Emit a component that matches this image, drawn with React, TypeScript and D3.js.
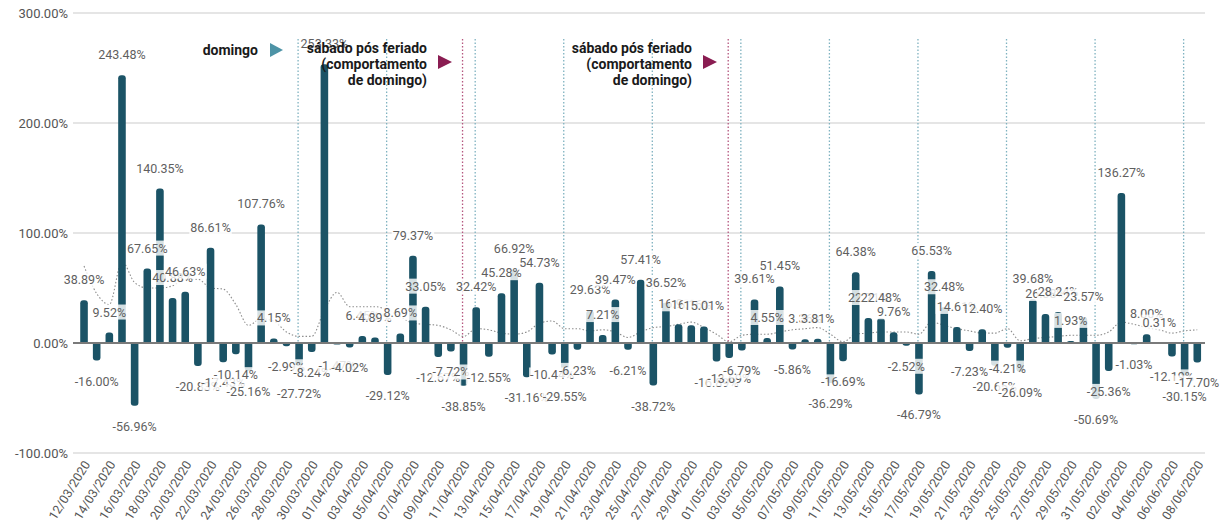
import React, { useEffect, useRef } from 'react';
import * as d3 from 'd3';

// daily % change vs previous day
const dates = [
  '12/03/2020', '13/03/2020', '14/03/2020', '15/03/2020', '16/03/2020', '17/03/2020', '18/03/2020', '19/03/2020',
  '20/03/2020', '21/03/2020', '22/03/2020', '23/03/2020', '24/03/2020', '25/03/2020', '26/03/2020', '27/03/2020',
  '28/03/2020', '29/03/2020', '30/03/2020', '31/03/2020', '01/04/2020', '02/04/2020', '03/04/2020', '04/04/2020',
  '05/04/2020', '06/04/2020', '07/04/2020', '08/04/2020', '09/04/2020', '10/04/2020', '11/04/2020', '12/04/2020',
  '13/04/2020', '14/04/2020', '15/04/2020', '16/04/2020', '17/04/2020', '18/04/2020', '19/04/2020', '20/04/2020',
  '21/04/2020', '22/04/2020', '23/04/2020', '24/04/2020', '25/04/2020', '26/04/2020', '27/04/2020', '28/04/2020',
  '29/04/2020', '30/04/2020', '01/05/2020', '02/05/2020', '03/05/2020', '04/05/2020', '05/05/2020', '06/05/2020',
  '07/05/2020', '08/05/2020', '09/05/2020', '10/05/2020', '11/05/2020', '12/05/2020', '13/05/2020', '14/05/2020',
  '15/05/2020', '16/05/2020', '17/05/2020', '18/05/2020', '19/05/2020', '20/05/2020', '21/05/2020', '22/05/2020',
  '23/05/2020', '24/05/2020', '25/05/2020', '26/05/2020', '27/05/2020', '28/05/2020', '29/05/2020', '30/05/2020',
  '31/05/2020', '01/06/2020', '02/06/2020', '03/06/2020', '04/06/2020', '05/06/2020', '06/06/2020', '07/06/2020',
  '08/06/2020'
];

const changePct = [
  38.89, -16.0, 9.52, 243.48, -56.96, 67.65, 140.35, 40.88,
  46.63, -20.83, 86.61, -17.43, -10.14, -25.16, 107.76, 4.15,
  -2.99, -27.72, -8.24, 253.33, -1.47, -4.02, 6.45, 4.89,
  -29.12, 8.69, 79.37, 33.05, -12.67, -7.72, -38.85, 32.42,
  -12.55, 45.28, 66.92, -31.16, 54.73, -10.44, -29.55, -6.23,
  29.63, 7.21, 39.47, -6.21, 57.41, -38.72, 36.52, 16.98,
  16.16, 15.01, -16.89, -13.69, -6.79, 39.61, 4.55, 51.45,
  -5.86, 3.36, 3.81, -36.29, -16.69, 64.38, 22.71, 22.48,
  9.76, -2.52, -46.79, 65.53, 32.48, 14.61, -7.23, 12.4,
  -20.65, -4.21, -26.09, 39.68, 26.38, 28.24, 1.93, 23.57,
  -50.69, -25.36, 136.27, -1.03, 8.0, 0.31, -12.19, -30.15,
  -17.7
];

// dotted trend line
const trendPct = [
  70, 45, 35, 74, 55, 50, 50, 52,
  58, 58, 50, 49, 35, 16, 22, 20,
  10, 6, 6, 30, 46, 33, 33, 33,
  30, 24, 18, 17, 16, 12, 6, 13,
  12, 9, 8, 10, 18, 20, 13, 13,
  11, 12, 10, 5, 10, 14, 15, 17,
  19, 14, 8, 1, 7, 8, 8, 10,
  12, 13, 14, 8, 1, 8, 9, 10,
  10, 10, 8, 19, 16, 13, 11, 9,
  9, 13, 2, 4, 5, 6, 7, 7,
  7, 10, 19, 17, 14, 12, 9, 11,
  12
];

const sundayDates = [
  '29/03/2020', '05/04/2020', '12/04/2020', '19/04/2020', '26/04/2020', '03/05/2020',
  '10/05/2020', '17/05/2020', '24/05/2020', '31/05/2020', '07/06/2020'
];
const holidaySaturdayDates = ['11/04/2020', '02/05/2020'];

const yTicks = [-100, 0, 100, 200, 300];
const xTickLabels = dates.filter((_, i) => i % 2 === 0);

const W = 1228;
const H = 525;
const BAR_COLOR = '#1b5366';
const TEAL = '#4d93a6';
const MAROON = '#8a1d52';
const FONT = 'Roboto, sans-serif';

function barPath(x0: number, w: number, base: number, end: number, r: number) {
  const h = Math.abs(end - base);
  const rr = Math.min(r, h, w / 2);
  if (end <= base) {
    return `M${x0},${base}L${x0},${end + rr}Q${x0},${end} ${x0 + rr},${end}L${x0 + w - rr},${end}Q${x0 + w},${end} ${x0 + w},${end + rr}L${x0 + w},${base}Z`;
  }
  return `M${x0},${base}L${x0},${end - rr}Q${x0},${end} ${x0 + rr},${end}L${x0 + w - rr},${end}Q${x0 + w},${end} ${x0 + w},${end - rr}L${x0 + w},${base}Z`;
}

export default function App() {
  const svgRef = useRef<SVGSVGElement>(null);

  useEffect(() => {
    if (!svgRef.current) return;
    const svg = d3.select(svgRef.current);
    svg.selectAll('*').remove();

    const x = d3.scaleBand<string>()
      .domain(dates)
      .range([77.7, 1203.6])
      .paddingInner(0.4)
      .paddingOuter(0.2);
    const y = d3.scaleLinear().domain([-100, 300]).range([453, 13]);
    const cx = (d: string) => (x(d) as number) + x.bandwidth() / 2;

    // grid + y labels
    const grid = svg.append('g');
    grid.selectAll('line')
      .data(yTicks)
      .enter()
      .append('line')
      .attr('x1', 73)
      .attr('x2', 1205)
      .attr('y1', d => y(d))
      .attr('y2', d => y(d))
      .attr('stroke', d => (d === 0 ? '#7a7a7a' : '#dcdcdc'))
      .attr('stroke-width', d => (d === 0 ? 2 : 1.5));

    grid.selectAll('text')
      .data(yTicks)
      .enter()
      .append('text')
      .attr('x', 68)
      .attr('y', d => y(d))
      .attr('dy', '0.35em')
      .attr('text-anchor', 'end')
      .style('font-family', FONT)
      .style('font-size', '13px')
      .style('fill', '#555')
      .text(d => `${d.toFixed(2)}%`);

    // weekday reference lines
    const refLines = svg.append('g');
    const addRefLines = (list: string[], color: string) => {
      refLines.selectAll(null)
        .data(list)
        .enter()
        .append('line')
        .attr('x1', d => cx(d) - 1)
        .attr('x2', d => cx(d) - 1)
        .attr('y1', 39)
        .attr('y2', y(0))
        .attr('stroke', color)
        .attr('stroke-width', 1.3)
        .attr('stroke-dasharray', '1.5,2');
    };
    addRefLines(sundayDates, '#7fb2c0');
    addRefLines(holidaySaturdayDates, '#b5577f');

    // trend line
    const line = d3.line<number>()
      .x((_, i) => cx(dates[i]))
      .y(d => y(d))
      .curve(d3.curveMonotoneX);
    svg.append('path')
      .datum(trendPct)
      .attr('d', line)
      .attr('fill', 'none')
      .attr('stroke', '#8c8c8c')
      .attr('stroke-width', 1.1)
      .attr('stroke-dasharray', '1.5,2');

    // bars
    svg.append('g')
      .selectAll('path')
      .data(changePct)
      .enter()
      .append('path')
      .attr('d', (d, i) => barPath(x(dates[i]) as number, x.bandwidth(), y(0), y(d), 3))
      .attr('fill', BAR_COLOR);

    // zero line on top of bar bases
    svg.append('line')
      .attr('x1', 73)
      .attr('x2', 1205)
      .attr('y1', y(0))
      .attr('y2', y(0))
      .attr('stroke', '#7a7a7a')
      .attr('stroke-width', 2);

    // data labels with soft backgrounds
    const labels = svg.append('g');
    changePct.forEach((v, i) => {
      const g = labels.append('g');
      const t = g.append('text')
        .attr('x', cx(dates[i]))
        .attr('y', v >= 0 ? y(v) - 16 : y(v) + 25)
        .attr('text-anchor', 'middle')
        .style('font-family', FONT)
        .style('font-size', '12.5px')
        .style('fill', '#5f5f5f')
        .text(`${v.toFixed(2)}%`);
      const bb = (t.node() as SVGTextElement).getBBox();
      g.insert('rect', 'text')
        .attr('x', bb.x - 1)
        .attr('y', bb.y)
        .attr('width', bb.width + 2)
        .attr('height', bb.height)
        .attr('fill', '#fff')
        .attr('fill-opacity', 0.82);
    });

    // x axis labels
    svg.append('g')
      .selectAll('text')
      .data(xTickLabels)
      .enter()
      .append('text')
      .attr('transform', d => `translate(${cx(d) + 3},${462}) rotate(-58)`)
      .attr('text-anchor', 'end')
      .attr('dy', '0.35em')
      .style('font-family', FONT)
      .style('font-size', '12.5px')
      .style('fill', '#555')
      .text(d => d);

    // annotations
    const ann = svg.append('g')
      .style('font-family', FONT)
      .style('font-weight', '700')
      .style('font-size', '14px')
      .style('fill', '#1a1a1a');

    ann.append('text')
      .attr('x', 258)
      .attr('y', 55)
      .attr('text-anchor', 'end')
      .text('domingo');
    ann.append('path')
      .attr('d', 'M270,43L283,50L270,57Z')
      .attr('fill', TEAL);

    const noteLines = ['sábado pós feriado', '(comportamento', 'de domingo)'];
    [427, 692].forEach(right => {
      noteLines.forEach((s, k) => {
        ann.append('text')
          .attr('x', right)
          .attr('y', 53 + k * 16)
          .attr('text-anchor', 'end')
          .text(s);
      });
      ann.append('path')
        .attr('d', `M${right + 11},55L${right + 25},62L${right + 11},69Z`)
        .attr('fill', MAROON);
    });
  }, []);

  return (
    <div style={{ position: 'absolute', left: 0, top: 0 }}>
      <svg ref={svgRef} width={W} height={H} style={{ display: 'block', background: '#fff' }} />
    </div>
  );
}
